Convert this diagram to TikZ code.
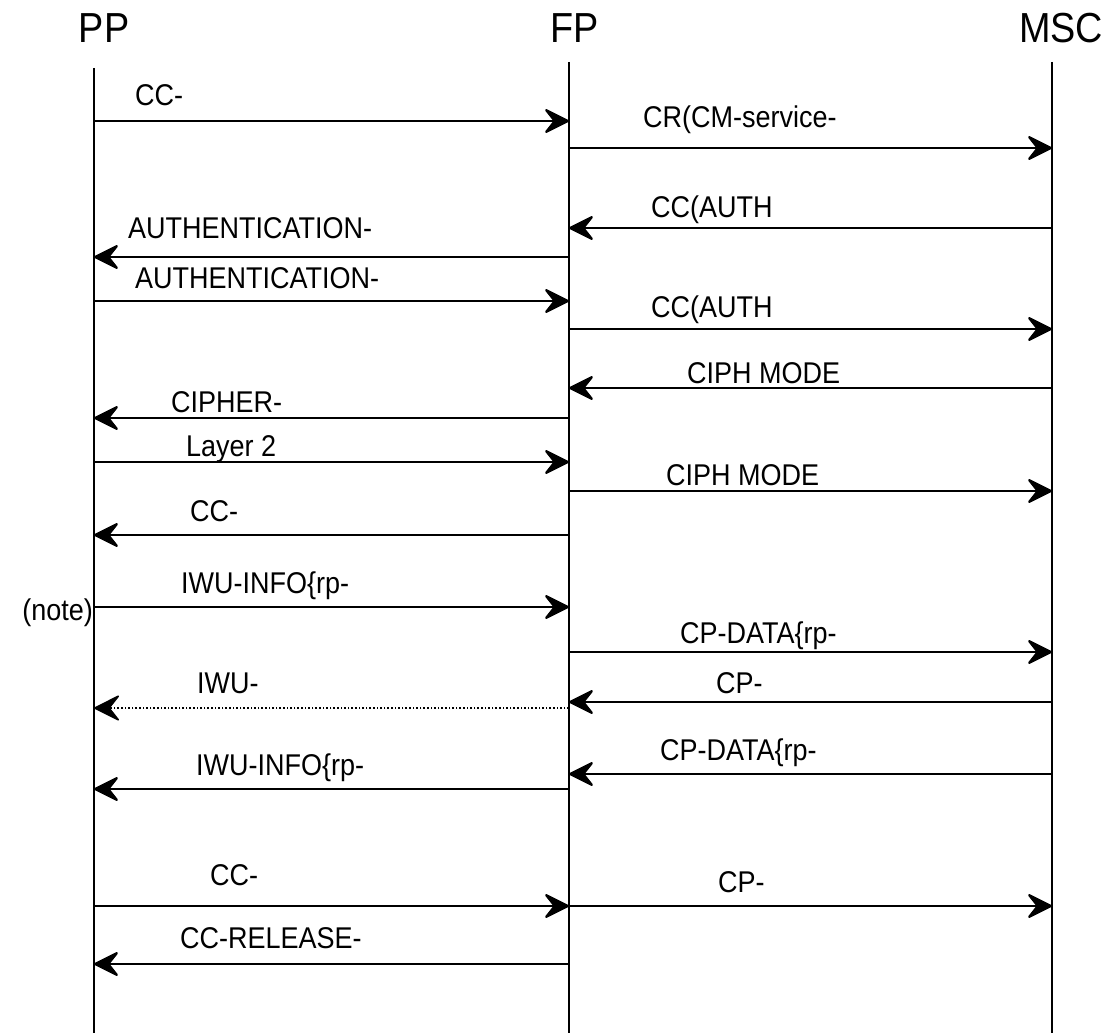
\documentclass[tikz,border=0pt]{standalone}
\usepackage{fontspec}
\setmainfont{Liberation Sans}[FakeStretch=0.9]
\usetikzlibrary{arrows.meta}

\tikzset{
  head/.style={font=\fontsize{42}{42}\selectfont, inner sep=0pt},
  lifeline/.style={line width=2pt},
  msg/.style={line width=2.2pt, -{Stealth[length=28pt,width=28pt,inset=11pt,round]}},
  lbl/.style={font=\fontsize{30}{30}\selectfont, inner sep=0pt, anchor=base west},
}

\begin{document}
\begin{tikzpicture}[x=1pt,y=-1pt]
  \useasboundingbox (0,0) rectangle (1114,1033);
  \node[head] (pphead) at (104,28) {PP}; % portable part
  \node[head] (fphead) at (575,28) {FP}; % fixed part
  \node[head] (mschead) at (1061,28) {MSC}; % switching centre
  \coordinate (PP) at (94,68); % top of PP line
  \coordinate (FP) at (569,62); % top of FP line
  \coordinate (MSC) at (1052,62); % top of MSC line
  \draw[lifeline] (PP) -- (PP |- 0,1033); % PP line
  \draw[lifeline] (FP) -- (FP |- 0,1033); % FP line
  \draw[lifeline] (MSC) -- (MSC |- 0,1033); % MSC line
  \draw[msg] (PP |- 0,121) -- (FP |- 0,121); % CC-
  \node[lbl] (m1) at (135,106) {CC-};
  \draw[msg] (FP |- 0,148) -- (MSC |- 0,148); % CR
  \node[lbl] (m2) at (643,128) {CR(CM-service-};
  \draw[msg] (MSC |- 0,228) -- (FP |- 0,228); % CC(AUTH
  \node[lbl] (m3) at (651,217) {CC(AUTH};
  \draw[msg] (FP |- 0,257) -- (PP |- 0,257); % AUTHENTICATION-
  \node[lbl] (m4) at (128,238) {AUTHENTICATION-};
  \draw[msg] (PP |- 0,301) -- (FP |- 0,301); % AUTHENTICATION-
  \node[lbl] (m5) at (135,288) {AUTHENTICATION-};
  \draw[msg] (FP |- 0,329) -- (MSC |- 0,329); % CC(AUTH
  \node[lbl] (m6) at (651,317) {CC(AUTH};
  \draw[msg] (MSC |- 0,388) -- (FP |- 0,388); % CIPH MODE
  \node[lbl] (m7) at (687,383) {CIPH MODE};
  \draw[msg] (FP |- 0,418) -- (PP |- 0,418); % CIPHER-
  \node[lbl] (m8) at (171,412) {CIPHER-};
  \draw[msg] (PP |- 0,462) -- (FP |- 0,462); % Layer 2
  \node[lbl] (m9) at (186,456) {Layer 2};
  \draw[msg] (FP |- 0,491) -- (MSC |- 0,491); % CIPH MODE
  \node[lbl] (m10) at (666,485) {CIPH MODE};
  \draw[msg] (FP |- 0,535) -- (PP |- 0,535); % CC-
  \node[lbl] (m11) at (190,521) {CC-};
  \draw[msg] (PP |- 0,607) -- (FP |- 0,607); % IWU-INFO
  \node[lbl] (m12) at (181,593) {IWU-INFO\{rp-};
  \node[lbl, anchor=base east] (note) at (93,620) {(note)};
  \draw[msg] (FP |- 0,652) -- (MSC |- 0,652); % CP-DATA
  \node[lbl] (m13) at (680,643) {CP-DATA\{rp-};
  \draw[msg] (MSC |- 0,702) -- (FP |- 0,702); % CP-
  \node[lbl] (m14) at (716,693) {CP-};
  \draw[msg, line width=1.6pt, dotted] (FP |- 0,708) -- (PP |- 0,708); % IWU-
  \node[lbl] (m15) at (197,693) {IWU-};
  \draw[msg] (MSC |- 0,774) -- (FP |- 0,774); % CP-DATA
  \node[lbl] (m16) at (660,760) {CP-DATA\{rp-};
  \draw[msg] (FP |- 0,789) -- (PP |- 0,789); % IWU-INFO
  \node[lbl] (m17) at (196,775) {IWU-INFO\{rp-};
  \draw[msg] (PP |- 0,906) -- (FP |- 0,906); % CC-
  \node[lbl] (m18) at (210,885) {CC-};
  \draw[msg] (FP |- 0,906) -- (MSC |- 0,906); % CP-
  \node[lbl] (m19) at (718,892) {CP-};
  \draw[msg] (FP |- 0,964) -- (PP |- 0,964); % CC-RELEASE-
  \node[lbl] (m20) at (180,948) {CC-RELEASE-};
\end{tikzpicture}
\end{document}
